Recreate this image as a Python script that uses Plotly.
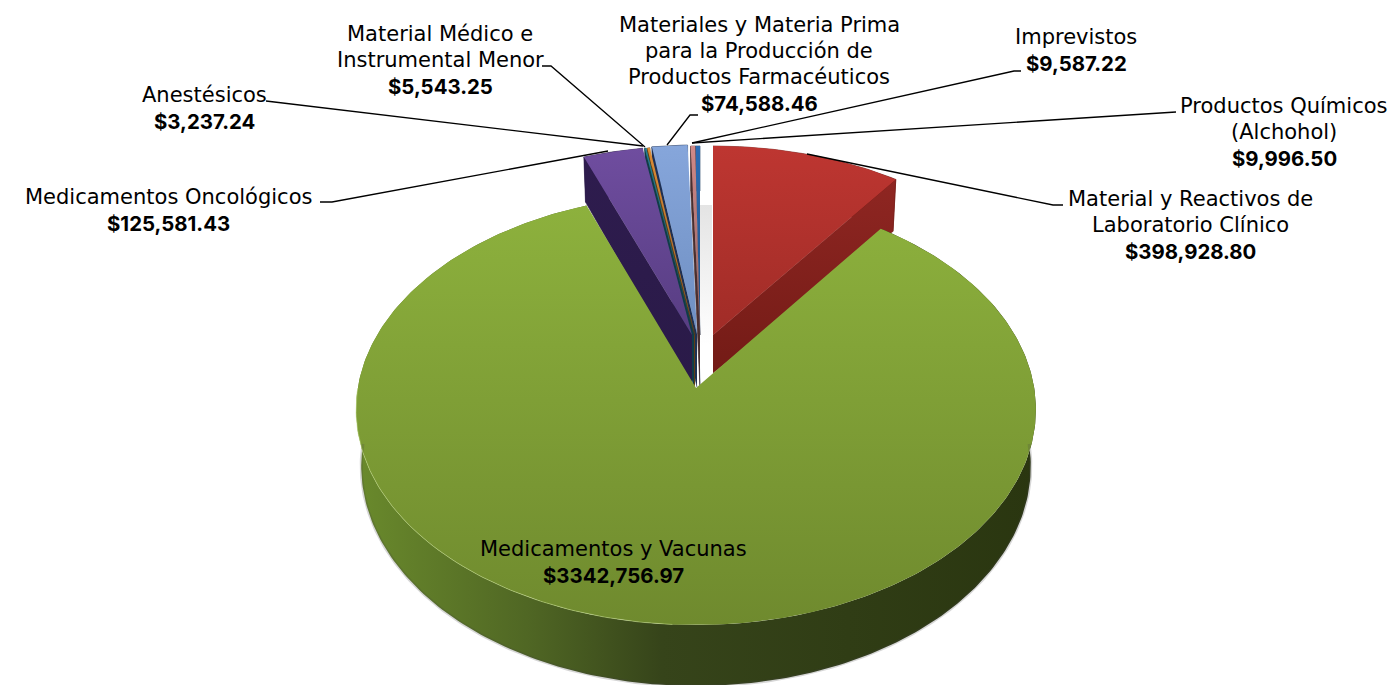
import numpy as np
import plotly.graph_objects as go

# ---- data (clockwise from 12 o'clock) ----
categories = ["Material y Reactivos de Laboratorio Clínico", "Medicamentos y Vacunas",
              "Medicamentos Oncológicos", "Anestésicos",
              "Material Médico e Instrumental Menor",
              "Materiales y Materia Prima para la Producción de Productos Farmacéuticos",
              "Imprevistos", "Productos Químicos (Alchohol)"]
values = [398928.80, 3342756.97, 125581.43, 3237.24, 5543.25, 74588.46, 9587.22, 9996.50]
value_labels = ["$398,928.80", "$3342,756.97", "$125,581.43", "$3,237.24", "$5,543.25",
                "$74,588.46", "$9,587.22", "$9,996.50"]

# ---- styles ----
top_colors = [("#BE3631", "#A02C27"), ("#8DB13D", "#6F8A2E"), ("#6F4D9F", "#573D82"),
              ("#1F7F93", "#14505E"), ("#DC8C35", "#9A6224"), ("#86A6DB", "#6F8FC2"),
              ("#D08A88", "#8F5F60"), ("#2C6DB5", "#1F4D80")]
wall_colors = [("#8F2622", "#731B16"), ("#6A8A2C", "#2E3A12"), ("#2E1C4E", "#2A1A48"),
               ("#103C48", "#103C48"), ("#5E3C14", "#5E3C14"), ("#1E2F55", "#1E3050"),
               ("#4A2F30", "#4A2F30"), ("#173A60", "#173A60")]
green_wall_scale = [[0, "#6A8A2C"], [0.25, "#506724"], [0.45, "#36441A"], [1, "#2A3610"]]
# apex of every exploded wedge on the page
apex = [(713, 335), (696, 388), (692, 335), (694, 335), (695, 335), (697, 334), (700, 335), (700, 335)]
# perspective of the disc: (A, B, K) for the rear wedges and for the front wedge
REAR = (337.8, 210.3, 0.1126)
FRONT = (338.2, 213.3, 0.1)
FONT = "DejaVu Sans"
BOLD = "Inter"
FS = 21
VS = 20.4
LINE = 26
W, H = 1391, 685

# text lines, centre x, centre y of the first line, index of the value
labels = [
    (["Material y Reactivos de", "Laboratorio Clínico"], 1190, 199, 0),
    (["Medicamentos y Vacunas"], 613, 549, 1),
    (["Medicamentos Oncológicos"], 168, 197, 2),
    (["Anestésicos"], 204, 95, 3),
    (["Material Médico e", "Instrumental Menor"], 440, 34, 4),
    (["Materiales y Materia Prima", "para la Producción de", "Productos Farmacéuticos"], 759, 25, 5),
    (["Imprevistos"], 1076, 37, 6),
    (["Productos Químicos", "(Alchohol)"], 1284, 106, 7),
]
leaders = [
    ([807, 1053, 1063], [154, 205, 205]),
    ([608, 332, 320], [151, 202, 202]),
    ([643, 272, 266], [146, 101, 101]),
    ([645, 551, 542], [147, 66, 66]),
    ([667, 690, 698], [145, 115, 115]),
    ([692, 1014, 1021], [143, 71, 71]),
    ([692, 1170, 1176], [143, 112, 112]),
]

total = sum(values)
edges = np.concatenate([[0], np.cumsum(values)]) / total * 2 * np.pi


def plane(theta, ap, r=1.0, lower=False, deep=False, persp=REAR):
    a, b, k = persp
    u, v = r * np.sin(theta), -r * np.cos(theta)
    w = 1 - k * v
    x, y = a * u / w, b * v / w
    if lower:
        y = y + (53 - 8 * r if deep else 38 + 18 * r + 5 * v)
        x = x * 0.985
    return ap[0] + x, ap[1] + y


fig = go.Figure()


def poly(xs, ys, colors=None, kind="vertical", scale=None, edge=0.6):
    if scale is None:
        # the y axis runs downwards, so a vertical gradient is given bottom colour first
        scale = [[0, colors[1]], [1, colors[0]]] if kind == "vertical" else [[0, colors[0]], [1, colors[1]]]
    line = dict(width=edge, color=scale[0][1]) if edge else dict(width=0)
    fig.add_trace(go.Scatter(
        x=list(xs), y=list(ys), mode="lines", fill="toself",
        fillgradient=dict(type=kind, colorscale=scale),
        line=line, hoverinfo="skip", showlegend=False))


def wedge(i):
    t = np.linspace(edges[i], edges[i + 1], max(3, int((edges[i + 1] - edges[i]) * 60)))
    ap = apex[i]
    deep = i > 1
    persp = FRONT if i == 1 else REAR
    tx, ty = plane(t, ap, persp=persp)
    bx, by = plane(t, ap, lower=True, deep=deep, persp=persp)
    apb = plane(np.array([0.0]), ap, r=0.0, lower=True, deep=deep, persp=persp)
    if i == 1:
        # near rim wall, lit from the left
        poly(np.r_[bx, tx[::-1]], np.r_[by, ty[::-1]], kind="horizontal", scale=green_wall_scale, edge=0)
    else:
        # arc wall
        poly(np.r_[bx, tx[::-1]], np.r_[by, ty[::-1]], wall_colors[i])
        # radial wall facing the viewer
        j = -1 if i == 0 else 0
        poly([ap[0], tx[j], bx[j], apb[0][0]], [ap[1], ty[j], by[j], apb[1][0]], wall_colors[i])
    poly(np.r_[ap[0], tx, ap[0]], np.r_[ap[1], ty, ap[1]], top_colors[i], edge=0)


# faint shadow in the gap beside the red wedge
poly([700, 712, 712, 700], [205, 205, 345, 345], ("#E4E4E4", "#FFFFFF"), edge=0)

for i in [0, 7, 6, 5, 4, 3, 2, 1]:
    wedge(i)

# silhouette softening and rim light on the front wedge
t = np.linspace(np.pi * 0.5, np.pi * 1.5, 240)
sx, sy = plane(t, apex[1], lower=True, persp=FRONT)
fig.add_trace(go.Scatter(x=sx, y=sy, mode="lines", line=dict(width=3, color="rgba(70,70,70,0.22)"),
                         hoverinfo="skip", showlegend=False))
t = np.linspace(np.pi * 1.02, np.pi * 1.5, 80)
rx, ry = plane(t, apex[1], persp=FRONT)
fig.add_trace(go.Scatter(x=rx, y=ry, mode="lines", line=dict(width=1, color="rgba(190,215,130,0.55)"),
                         hoverinfo="skip", showlegend=False))

for lx, ly in leaders:
    fig.add_trace(go.Scatter(x=lx, y=ly, mode="lines", line=dict(width=1.3, color="black"),
                             hoverinfo="skip", showlegend=False))

ann = []
for lines, x, y, idx in labels:
    for n, text in enumerate(lines):
        ann.append(dict(x=x, y=y + n * LINE, xref="x", yref="y", xanchor="center", yanchor="middle",
                        showarrow=False, text=text, font=dict(family=FONT, size=FS, color="black")))
    ann.append(dict(x=x, y=y + len(lines) * LINE, xref="x", yref="y", xanchor="center", yanchor="middle",
                    showarrow=False, text=f"<b>{value_labels[idx]}</b>",
                    font=dict(family=BOLD, size=VS, color="black")))

fig.update_layout(
    width=W, height=H, margin=dict(l=0, r=0, t=0, b=0), paper_bgcolor="white", plot_bgcolor="white",
    xaxis=dict(range=[0, W], visible=False, fixedrange=True),
    yaxis=dict(range=[H, 0], visible=False, fixedrange=True),
    annotations=ann, showlegend=False)
fig.write_html("out.html", config={"displayModeBar": False},
               post_script="document.body.style.margin='0';document.body.style.overflow='hidden';")
